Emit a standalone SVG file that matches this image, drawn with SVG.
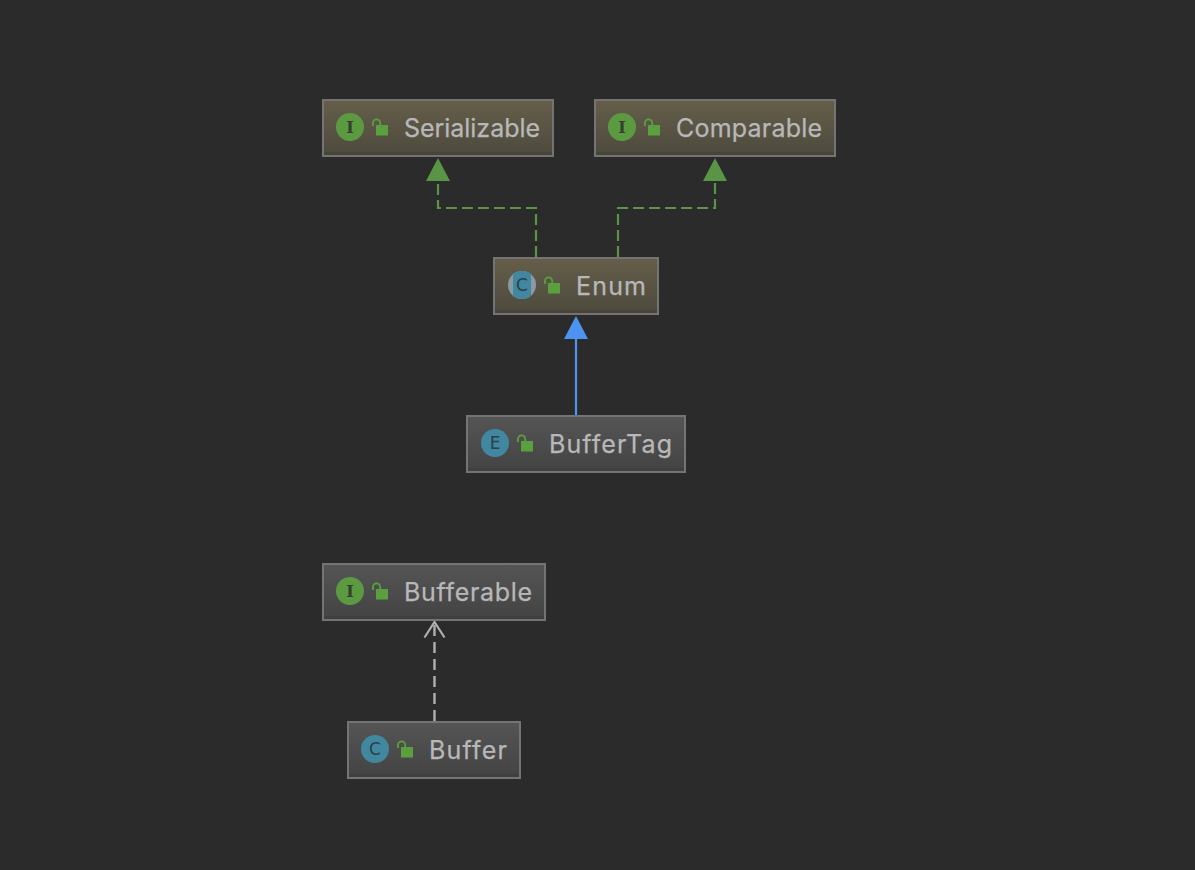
<svg xmlns="http://www.w3.org/2000/svg" xmlns:xlink="http://www.w3.org/1999/xlink" width="1195" height="870" viewBox="0 0 1195 870">
<style>
.box{stroke:#747474;stroke-width:2}
.lab{font-family:"Inter","Liberation Sans",sans-serif;font-size:25px;fill:#b8b8b8;stroke:#b8b8b8;stroke-width:.25}
.glyph{font-family:"DejaVu Sans",sans-serif;font-size:17px;fill:#2b3f4a;text-anchor:middle}
.serif{font-family:"DejaVu Serif",serif;font-size:16px;font-weight:bold;fill:#33402c}
.dg{fill:none;stroke:#5a9445;stroke-width:2.2;stroke-dasharray:11 5}
.warmband{fill:#47443a}
.coolband{fill:#3f3f3f}
</style>
<defs>
<linearGradient id="warm" x1="0" y1="0" x2="0" y2="1"><stop offset="0" stop-color="#655e4a"/><stop offset="1" stop-color="#4d4a3d"/></linearGradient>
<linearGradient id="cool" x1="0" y1="0" x2="0" y2="1"><stop offset="0" stop-color="#555555"/><stop offset="1" stop-color="#434343"/></linearGradient>
<g id="lock"><path d="M-7 0v-3a3.600 3.600 0 0 1 7.200 0v2" fill="none" stroke="#5aa03f" stroke-width="1.800"/><rect x="-4" y="-1" width="12" height="10.500" fill="#5aa03f"/></g>
<clipPath id="enumclip"><circle cx="522" cy="285" r="14"/></clipPath>
</defs>
<rect width="1195" height="870" fill="#2b2b2b"/>
<g id="connectors">
<path class="dg" d="M536 257V208H438V180"/>
<polygon points="438,158 426,181 450,181" fill="#5a9445"/>
<path class="dg" d="M618 257V208H715V180"/>
<polygon points="715,158 703,181 727,181" fill="#5a9445"/>
<path d="M576 415V338" fill="none" stroke="#4d94f0" stroke-width="2.200"/>
<polygon points="576,316 564,339 588,339" fill="#4d94f0"/>
<path d="M434.500 721V622" fill="none" stroke="#b0b0b0" stroke-width="2.400" stroke-dasharray="11 6"/>
<path d="M424.500 637.500L434.500 622L444.500 637.500" fill="none" stroke="#b0b0b0" stroke-width="2.200"/>
</g>
<g id="node-serializable">
<rect class="box" x="323" y="100" width="230" height="56" fill="url(#warm)"/>
<rect class="warmband" x="324" y="152" width="228" height="3"/>
<circle cx="350" cy="127" r="14" fill="#5c9a41"/>
<text class="glyph serif" x="350" y="133">I</text>
<use xlink:href="#lock" x="380" y="126"/>
<text class="lab" x="404" y="137" textLength="136">Serializable</text>
</g>
<g id="node-comparable">
<rect class="box" x="595" y="100" width="240" height="56" fill="url(#warm)"/>
<rect class="warmband" x="596" y="152" width="238" height="3"/>
<circle cx="622" cy="127" r="14" fill="#5c9a41"/>
<text class="glyph serif" x="622" y="133">I</text>
<use xlink:href="#lock" x="652" y="126"/>
<text class="lab" x="676" y="137" textLength="146">Comparable</text>
</g>
<g id="node-enum">
<rect class="box" x="494" y="258" width="164" height="56" fill="url(#warm)"/>
<rect class="warmband" x="495" y="310" width="162" height="3"/>
<circle cx="522" cy="285" r="14" fill="#8a9aa3"/>
<rect x="513" y="271" width="18" height="28" fill="#41879f" clip-path="url(#enumclip)"/>
<text class="glyph" x="522" y="291">C</text>
<use xlink:href="#lock" x="552" y="284"/>
<text class="lab" x="576" y="295" textLength="70">Enum</text>
</g>
<g id="node-buffertag">
<rect class="box" x="467" y="416" width="218" height="56" fill="url(#cool)"/>
<rect class="coolband" x="468" y="468" width="216" height="3"/>
<circle cx="495" cy="443" r="14" fill="#41879f"/>
<text class="glyph" x="495" y="449">E</text>
<use xlink:href="#lock" x="525" y="442"/>
<text class="lab" x="549" y="453" textLength="123">BufferTag</text>
</g>
<g id="node-bufferable">
<rect class="box" x="323" y="564" width="222" height="56" fill="url(#cool)"/>
<rect class="coolband" x="324" y="616" width="220" height="3"/>
<circle cx="350" cy="591" r="14" fill="#5c9a41"/>
<text class="glyph serif" x="350" y="597">I</text>
<use xlink:href="#lock" x="380" y="590"/>
<text class="lab" x="404" y="601" textLength="128">Bufferable</text>
</g>
<g id="node-buffer">
<rect class="box" x="348" y="722" width="172" height="56" fill="url(#cool)"/>
<rect class="coolband" x="349" y="774" width="170" height="3"/>
<circle cx="375" cy="749" r="14" fill="#41879f"/>
<text class="glyph" x="375" y="755">C</text>
<use xlink:href="#lock" x="405" y="748"/>
<text class="lab" x="429" y="759" textLength="78">Buffer</text>
</g>
</svg>
